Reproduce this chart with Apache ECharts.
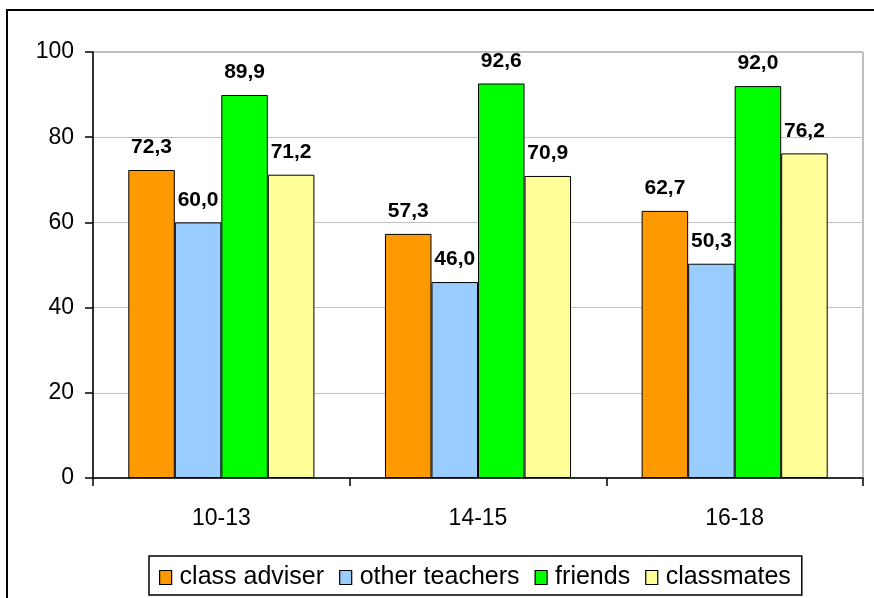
<!DOCTYPE html>
<html><head><meta charset="utf-8">
<script src="https://cdn.jsdelivr.net/npm/echarts@6/dist/echarts.min.js"></script>
<style>html,body{margin:0;padding:0;background:#fff}#c{width:874px;height:598px}</style>
</head><body><div id="c"></div>
<script>
var categories = ['10-13', '14-15', '16-18'];
var classAdviser = [72.3, 57.3, 62.7];
var otherTeachers = [60.0, 46.0, 50.3];
var friends = [89.9, 92.6, 92.0];
var classmates = [71.2, 70.9, 76.2];
var seriesNames = ['class adviser', 'other teachers', 'friends', 'classmates'];
var yTicks = [0, 20, 40, 60, 80, 100];

var colors = ['#FF9900', '#99CCFF', '#00FF00', '#FFFF99'];
var font = 'Arial, "Liberation Sans", sans-serif';
function mk(name, data, color) {
  return {
    name: name, type: 'bar', data: data,
    barGap: '0%', barCategoryGap: '27.5%',
    itemStyle: {color: color, borderColor: '#000', borderWidth: 1},
    label: {show: true, position: 'top', distance: 12, fontFamily: font, fontSize: 21, fontWeight: 'bold', color: '#000',
      formatter: function (p) { return p.value.toFixed(1).replace('.', ','); }}
  };
}
var chart = echarts.init(document.getElementById('c'));
chart.setOption({
  animation: false,
  graphic: [{type: 'rect', shape: {x: 7, y: 10, width: 900, height: 620}, style: {fill: 'none', stroke: '#000', lineWidth: 2}, z: -1}],
  grid: {left: 93, right: 11, top: 52, bottom: 120, show: true, borderColor: '#808080', borderWidth: 1, backgroundColor: 'transparent'},
  legend: {
    data: seriesNames, left: 149, top: 556, orient: 'horizontal',
    borderColor: '#000', borderWidth: 1.5, padding: [9, 11, 5, 10], itemGap: 15,
    itemWidth: 12, itemHeight: 14, icon: 'rect',
    itemStyle: {borderColor: '#000', borderWidth: 1.2},
    textStyle: {fontFamily: font, fontSize: 25, color: '#000', padding: [0, 0, 0, 3]}
  },
  xAxis: {
    type: 'category', data: categories,
    axisLine: {lineStyle: {color: '#000', width: 1.5}},
    axisTick: {show: true, length: 8, lineStyle: {color: '#000', width: 1.5}},
    axisLabel: {fontFamily: font, fontSize: 23, color: '#000', margin: 29}
  },
  yAxis: {
    type: 'value', min: yTicks[0], max: yTicks[yTicks.length - 1], interval: 20,
    axisLine: {show: true, lineStyle: {color: '#000', width: 1.5}},
    axisTick: {show: true, length: 8, lineStyle: {color: '#000', width: 1.5}},
    axisLabel: {fontFamily: font, fontSize: 23, color: '#000', margin: 19},
    splitLine: {lineStyle: {color: '#C0C0C0', width: 1}}
  },
  series: [
    mk(seriesNames[0], classAdviser, colors[0]),
    mk(seriesNames[1], otherTeachers, colors[1]),
    mk(seriesNames[2], friends, colors[2]),
    mk(seriesNames[3], classmates, colors[3])
  ]
});
</script></body></html>
